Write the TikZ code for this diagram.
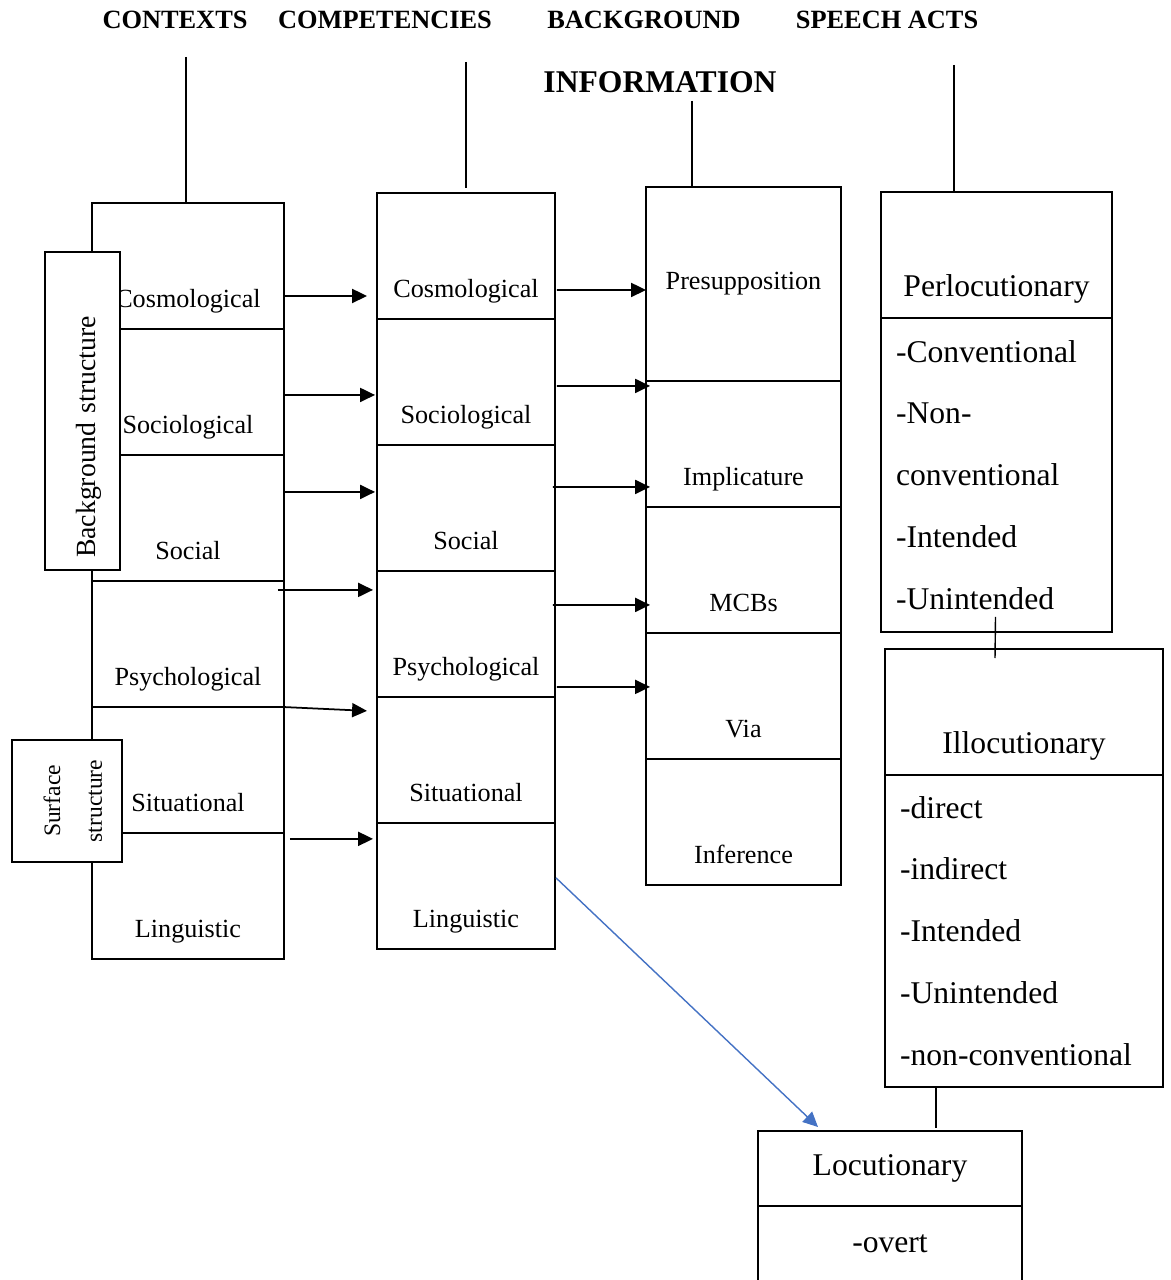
\documentclass[tikz,border=0pt]{standalone}
\usepackage{fontspec}
\setmainfont{Liberation Serif}
\usepackage{xcolor}
\usetikzlibrary{arrows.meta,positioning,calc}
\definecolor{arrowblue}{RGB}{68,114,196}

\begin{document}
\begin{tikzpicture}[x=0.02cm,y=-0.02cm,>={Triangle[length=8.5pt,width=8pt]},
    box/.style={draw,line width=1.1pt,outer sep=0pt,inner ysep=0pt},
    txt/.style={font=\fontsize{14.9}{18}\selectfont},
    cell/.style={box,txt,text height=2.1cm,text depth=0.42cm},
    ctxcell/.style={cell,minimum width=3.84cm},
    cmpcell/.style={cell,minimum width=3.56cm},
    bgcell/.style={cell,minimum width=3.9cm},
    head/.style={font=\fontsize{15}{18}\selectfont\bfseries},
    act/.style={box,font=\fontsize{18}{35.2}\selectfont},
    side/.style={draw,line width=1.1pt,fill=white,rotate=90},
    link/.style={->,line width=1pt},
    stem/.style={line width=0.8pt}]
    \useasboundingbox (0,0) rectangle (1170,1280);

    % column titles
    \node[head] (ctxt) at (175,20) {CONTEXTS};
    \node[head] (cmpt) at (385,20) {COMPETENCIES};
    \node[head] (bgt) at (644,20) {BACKGROUND};
    \node[head] (spt) at (887,20) {SPEECH ACTS};
    \node[font=\fontsize{18}{20}\selectfont\bfseries] (bgt2) at (660,82) {INFORMATION};
    \coordinate (ctxs) at (186,57);
    \coordinate (cmps) at (466,62);
    \coordinate (bgs) at (692,101);
    \coordinate (sps) at (954,65);

    % contexts
    \node[ctxcell,anchor=north] (ctx1) at (188,203) {Cosmological};
    \node[ctxcell,below=0pt of ctx1] (ctx2) {Sociological};
    \node[ctxcell,below=0pt of ctx2] (ctx3) {Social};
    \node[ctxcell,below=0pt of ctx3] (ctx4) {Psychological};
    \node[ctxcell,below=0pt of ctx4] (ctx5) {Situational};
    \node[ctxcell,below=0pt of ctx5] (ctx6) {Linguistic};

    % competencies
    \node[cmpcell,anchor=north] (cmp1) at (466,193) {Cosmological};
    \node[cmpcell,below=0pt of cmp1] (cmp2) {Sociological};
    \node[cmpcell,below=0pt of cmp2] (cmp3) {Social};
    \node[cmpcell,below=0pt of cmp3] (cmp4) {Psychological};
    \node[cmpcell,below=0pt of cmp4] (cmp5) {Situational};
    \node[cmpcell,below=0pt of cmp5] (cmp6) {Linguistic};

    % background information
    \node[box,txt,minimum width=3.9cm,minimum height=3.88cm,anchor=north] (bg1) at (743.5,187) {Presupposition};
    \node[bgcell,below=0pt of bg1] (bg2) {Implicature};
    \node[bgcell,below=0pt of bg2] (bg3) {MCBs};
    \node[bgcell,below=0pt of bg3] (bg4) {Via};
    \node[bgcell,below=0pt of bg4] (bg5) {Inference};

    % speech acts
    \node[act,anchor=north,minimum width=4.62cm,text height=2.09cm,text depth=0.43cm] (perl) at (996.5,192) {Perlocutionary};
    \node[act,below=0pt of perl,minimum height=6.28cm,text width=4.02cm,inner xsep=0.3cm,align=left] (perlb)
        {-Conventional\\-Non-\\conventional\\-Intended\\-Unintended};
    \node[act,anchor=north,minimum width=5.56cm,text height=2.09cm,text depth=0.43cm] (illo) at (1024,649) {Illocutionary};
    \node[act,below=0pt of illo,minimum height=6.24cm,text width=4.96cm,inner xsep=0.3cm,align=left] (illob)
        {-direct\\-indirect\\-Intended\\-Unintended\\-non-conventional};
    \node[act,anchor=north,minimum width=5.28cm,minimum height=1.5cm] (loc) at (890,1131) {Locutionary};
    \node[act,below=0pt of loc,minimum width=5.28cm,minimum height=1.52cm] (locb) {-overt};

    % side labels
    \node[side,minimum width=6.36cm,minimum height=1.5cm,text width=5.88cm,inner xsep=0.24cm,align=left,
        text height=0.63cm,font=\fontsize{15.8}{18}\selectfont] (bgstr) at (82.5,411) {Background structure};
    \node[side,minimum width=2.44cm,minimum height=2.2cm,align=center,text height=1.4cm,
        font=\fontsize{13.4}{23.8}\selectfont] (surf) at (67,801) {Surface\\structure};

    \draw[stem] (ctxs) -- (ctxs |- ctx1.north);
    \draw[stem,shorten >=2.8pt] (cmps) -- (cmps |- cmp1.north);
    \draw[stem] (bgs) -- (bgs |- bg1.north);
    \draw[stem] (sps) -- (sps |- perl.north);

    \draw[link] ($(ctx1.east)+(1,30)$) -- ($(cmp1.west)+(-10,40)$);
    \draw[link] ($(ctx2.east)+(1,3)$) -- ($(cmp2.west)+(-2,13)$);
    \draw[link] ($(ctx3.east)+(0,-26)$) -- ($(cmp3.west)+(-2,-16)$);
    \draw[link] ($(ctx4.east)+(-6,-54)$) -- ($(cmp4.west)+(-4,-44)$);
    \draw[link] ($(ctx4.south east)+(-3,0)$) -- ($(cmp5.west)+(-10,-49)$);
    \draw[link] ($(ctx6.east)+(6,-57)$) -- ($(cmp6.west)+(-4,-47)$);

    \draw[link] ($(cmp1.east)+(2,34)$) -- ($(bg1.west)+(0,6)$);
    \draw[link] ($(cmp2.east)+(2,4)$) -- ($(bg2.west)+(4,-58)$);
    \draw[link] ($(cmp3.east)+(-2,-21)$) -- ($(bg2.west)+(4,43)$);
    \draw[link] ($(cmp4.east)+(-2,-29)$) -- ($(bg3.west)+(4,35)$);
    \draw[link] ($(cmp4.east)+(2,53)$) -- ($(bg4.west)+(4,-9)$);

    \draw[->,arrowblue,line width=0.8pt] ($(cmp6.east)+(1,-8)$) -- ($(loc.north)+(-72,-4)$);
    \draw[stem] ($(perlb.south)+(-1,-15)$) -- ($(illo.north)+(-29,9)$);
    \draw[stem] ($(illob.south)+(-88,0)$) -- ($(loc.north)+(46,-3)$);
\end{tikzpicture}
\end{document}
